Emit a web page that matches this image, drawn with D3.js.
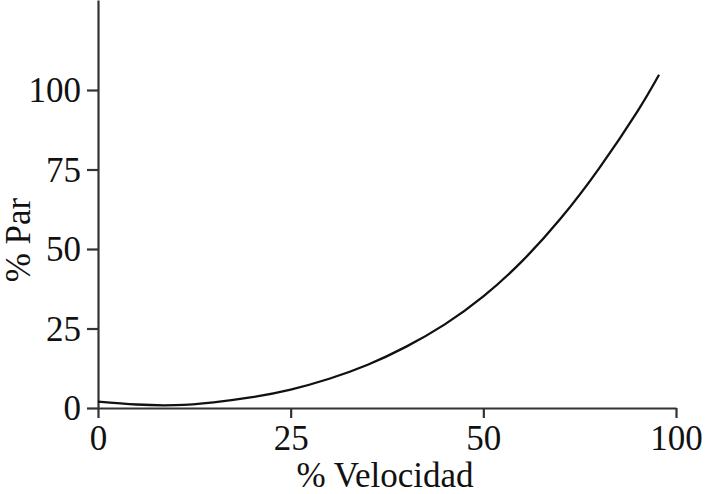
<!DOCTYPE html>
<html>
<head>
<meta charset="utf-8">
<script src="https://cdn.jsdelivr.net/npm/d3@7"></script>
<style>
  html, body { margin: 0; padding: 0; background: #fff; }
  svg { display: block; }
  text { font-family: "Liberation Serif", "Times New Roman", serif; fill: #111; }
</style>
</head>
<body>
<svg id="chart" width="708" height="494"></svg>
<script>
// Data (x in axis position units; the axis labels its 4th tick "100")
const velocity = [0, 5, 10, 15, 20, 25, 30, 35, 40, 45, 50, 55, 60, 65, 70, 72.8];
const torque   = [2.0, 1.1, 0.9, 1.8, 3.4, 5.8, 9.2, 13.6, 19.3, 26.3, 35.1, 46.1, 59.5, 75.3, 93.3, 104.8];

const xTickValues = [0, 25, 50, 75];
const xTickLabels = ["0", "25", "50", "100"];
const yTickValues = [0, 25, 50, 75, 100];
const yTickLabels = ["0", "25", "50", "75", "100"];

const xTitle = "% Velocidad";
const yTitle = "% Par";

const svg = d3.select("#chart");

const x = d3.scaleLinear().domain([0, 75]).range([98, 676]);
const y = d3.scaleLinear().domain([0, 100]).range([408, 90]);
const yTop = y.invert(0);
const yAxisScale = d3.scaleLinear().domain([0, yTop]).range([408, 0]);

const axisColor = "#333";
const fontSize = 35;

const gx = svg.append("g")
  .attr("transform", `translate(0,${y(0)})`)
  .call(d3.axisBottom(x)
    .tickValues(xTickValues)
    .tickFormat((d, i) => xTickLabels[i])
    .tickSizeInner(10).tickSizeOuter(0).tickPadding(7));

const gy = svg.append("g")
  .attr("transform", `translate(${x(0)},0)`)
  .call(d3.axisLeft(yAxisScale)
    .tickValues(yTickValues)
    .tickFormat((d, i) => yTickLabels[i])
    .tickSizeInner(11).tickSizeOuter(0).tickPadding(6));

[gx, gy].forEach(g => {
  g.select(".domain").attr("stroke", axisColor).attr("stroke-width", 2.2);
  g.selectAll(".tick line").attr("stroke", axisColor).attr("stroke-width", 2.2);
  g.selectAll(".tick text")
    .attr("font-family", "Liberation Serif, serif")
    .attr("font-size", fontSize)
    .attr("fill", "#111");
});
gy.selectAll(".tick text").attr("dy", "0.34em");

const line = d3.line()
  .x((d, i) => x(velocity[i]))
  .y(d => y(d))
  .curve(d3.curveNatural);

svg.append("path")
  .datum(torque)
  .attr("fill", "none")
  .attr("stroke", "#111")
  .attr("stroke-width", 2.3)
  .attr("d", line);

svg.append("text")
  .attr("x", 385)
  .attr("y", 487)
  .attr("text-anchor", "middle")
  .attr("font-size", fontSize)
  .text(xTitle);

svg.append("text")
  .attr("transform", "translate(30,240) rotate(-90)")
  .attr("text-anchor", "middle")
  .attr("font-size", fontSize)
  .text(yTitle);
</script>
</body>
</html>
